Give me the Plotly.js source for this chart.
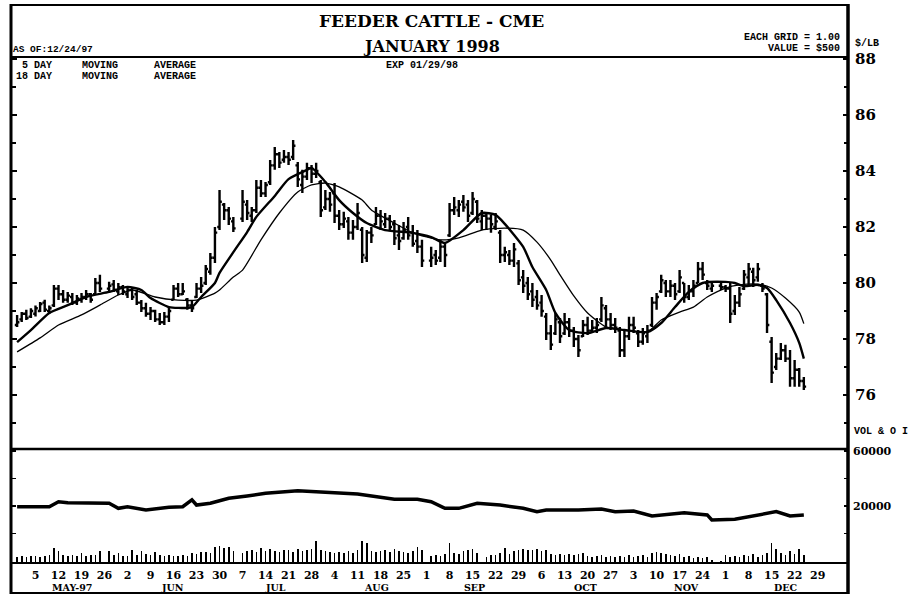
<!DOCTYPE html>
<html>
<head>
<meta charset="utf-8">
<script src="https://cdn.plot.ly/plotly-3.0.1.min.js"></script>
<style>html,body{margin:0;padding:0;background:#fff;}#chart{width:920px;height:597px;}</style>
</head>
<body>
<div id="chart"></div>
<script>
// ---------- DATA ----------
const holidays = ['1997-05-26','1997-07-04','1997-09-01','1997-11-27'];
const firstDay = '1997-04-29';
const lastDay = '1997-12-24';

const priceHigh = [
 78.86,78.96,79.04,79.10,79.20,79.32,79.40,79.20,79.93,79.93,79.75,79.68,79.64,79.57,79.64,79.75,79.64,80.18,80.29,
 80.04,80.11,80.00,79.93,79.82,79.82,79.75,79.39,79.29,79.14,79.04,78.93,78.96,79.14,79.93,80.00,80.00,79.46,79.39,80.00,80.21,80.64,81.07,82.00,83.32,82.86,82.71,82.36,
 83.32,82.96,82.71,83.68,83.68,83.61,84.39,84.86,84.68,84.75,84.68,85.11,84.32,84.04,84.29,84.21,84.29,83.68,83.32,83.25,83.57,82.61,82.54,82.36,82.25,82.86,82.00,81.89,82.00,82.71,82.61,82.50,82.43,82.25,82.07,82.18,82.36,82.07,81.89,81.54,
 81.29,81.18,81.54,81.43,82.86,83.07,82.96,83.14,82.96,83.25,82.96,82.61,82.50,82.43,82.50,81.89,81.29,81.18,81.43,80.82,80.46,80.21,80.00,79.75,79.57,78.93,78.50,78.93,78.75,78.93,78.75,78.43,78.14,78.68,78.79,78.68,78.75,79.50,79.21,78.93,78.75,78.43,78.32,78.79,78.79,78.32,78.39,78.50,79.50,79.64,80.29,80.11,80.11,80.00,80.46,80.00,79.93,80.11,80.75,80.75,80.11,80.04,
 80.00,79.93,80.00,79.57,79.86,80.46,80.71,80.54,80.71,80.00,79.64,78.07,77.50,77.86,77.79,77.61,77.25,76.96,76.64
];
const priceLow = [
 78.43,78.61,78.68,78.75,78.80,78.96,78.96,78.90,79.14,79.39,79.29,79.29,79.21,79.21,79.29,79.39,79.29,79.57,79.68,
 79.64,79.68,79.57,79.57,79.46,79.39,79.21,78.96,78.79,78.68,78.61,78.50,78.50,78.61,79.39,79.50,79.57,79.04,78.96,79.46,79.64,79.93,80.29,80.71,81.89,82.25,82.07,81.82,
 82.18,82.25,82.18,82.50,83.07,83.07,83.50,84.04,84.11,84.29,84.21,84.39,83.43,83.21,83.68,83.57,83.75,82.36,82.61,82.54,82.14,81.89,81.96,81.54,81.54,81.89,80.71,80.75,81.43,82.07,81.89,81.96,81.89,81.36,81.18,81.54,81.54,81.29,81.07,80.57,
 80.57,80.64,80.75,80.57,81.64,82.43,82.36,82.54,82.18,82.43,82.14,81.89,81.89,81.79,81.89,80.71,80.75,80.64,80.57,79.93,79.64,79.39,79.14,79.04,78.79,77.96,77.61,78.14,77.86,78.14,78.07,77.71,77.36,78.07,78.14,78.21,78.21,78.61,78.43,78.32,78.21,77.36,77.36,77.96,78.21,77.71,77.79,77.86,78.43,79.04,79.64,79.50,79.50,79.39,79.64,79.29,79.39,79.50,80.00,80.11,79.75,79.68,
 79.75,79.68,78.57,78.86,79.14,79.75,79.93,79.86,80.04,79.68,78.21,76.43,76.89,77.25,77.18,76.29,76.29,76.29,76.18
];
const priceOpen = [
 78.5,78.7,78.9,78.8,78.9,79.0,79.3,79.0,79.2,79.8,79.6,79.4,79.5,79.3,79.4,79.5,79.6,79.6,80.0,
 79.8,79.95,79.7,79.85,79.6,79.75,79.6,79.3,79.1,78.9,79.0,78.7,78.6,78.8,79.4,79.8,79.6,79.4,79.2,79.5,79.8,80.0,80.4,80.9,82.0,82.8,82.6,82.2,
 82.3,82.8,82.4,82.6,83.4,83.2,83.6,84.2,84.6,84.4,84.5,84.5,84.2,83.5,83.8,84.1,83.9,83.6,82.7,83.0,83.2,82.4,82.1,82.2,81.8,82.0,81.9,80.9,81.8,82.1,82.4,82.1,82.3,82.1,81.7,81.6,82.0,81.8,81.5,81.3,
 80.8,81.0,80.9,81.3,81.7,82.6,82.6,82.9,82.8,82.5,82.9,82.2,82.4,82.3,82.0,81.8,81.0,81.0,80.8,80.7,80.2,80.0,79.7,79.5,79.3,78.8,78.2,78.2,78.6,78.2,78.6,78.3,78.0,78.1,78.5,78.3,78.4,78.7,79.1,78.7,78.5,78.3,77.6,78.1,78.5,78.2,77.9,78.1,78.5,79.3,79.7,80.0,79.7,79.9,79.7,80.0,79.5,79.7,80.0,80.5,80.0,79.8,
 79.9,79.85,79.8,79.0,79.3,79.8,80.2,80.4,80.2,79.9,79.6,77.9,77.0,77.3,77.6,77.3,76.6,76.9,76.5
];
const priceClose = [
 78.6,78.9,78.75,79.0,79.1,79.25,79.05,79.1,79.8,79.6,79.4,79.55,79.3,79.45,79.5,79.6,79.4,80.0,79.8,
 79.9,79.75,79.85,79.7,79.75,79.5,79.3,79.1,78.9,79.0,78.7,78.6,78.8,79.0,79.8,79.6,79.7,79.2,79.1,79.8,79.9,80.5,80.9,81.8,82.9,82.6,82.3,81.95,
 82.9,82.5,82.6,83.4,83.2,83.5,84.2,84.6,84.3,84.5,84.4,84.9,83.7,83.8,84.1,83.9,84.0,82.6,83.0,82.8,82.4,82.1,82.3,81.8,82.0,82.5,81.0,81.8,81.7,82.4,82.2,82.3,82.0,81.6,81.5,81.9,81.7,81.4,81.3,80.8,
 80.9,80.8,81.3,81.0,82.6,82.7,82.8,82.7,82.4,83.0,82.3,82.4,82.3,82.1,82.2,81.0,81.1,80.8,81.2,80.1,79.9,79.6,79.4,79.2,79.0,78.2,77.8,78.7,78.1,78.6,78.3,78.0,77.6,78.5,78.3,78.4,78.5,79.2,78.7,78.5,78.4,77.6,78.1,78.5,78.4,77.9,78.2,78.3,79.3,79.5,80.1,79.7,79.9,79.6,80.2,79.5,79.7,79.9,80.5,80.3,79.9,79.9,
 79.85,79.8,78.9,79.3,79.6,80.3,80.5,80.1,80.5,79.8,78.5,76.8,77.3,77.6,77.3,76.6,76.9,76.5,76.3
];
const volume = [
 1500,1750,1500,1750,1750,1500,1750,2000,3750,3000,2000,1750,2000,1750,2500,1750,2000,2000,3000,
 3000,2000,2500,1750,1750,3250,2000,3000,2250,2000,2750,2000,1750,2000,1750,1750,2000,1750,2500,2250,2750,2750,2500,4000,4250,3750,4000,3000,
 2500,3000,3250,2750,3750,3000,3500,3000,2750,3250,3250,2750,3500,3000,3250,3500,5500,3250,3000,2750,2500,2750,2500,3000,2500,3250,5500,5000,3000,2750,3000,3250,2750,3500,3000,2750,2500,3000,4000,3250,
 1750,2000,1750,2250,5000,2500,2250,3000,3250,3500,2500,null,1500,2000,2000,2500,3750,2250,3000,3250,3500,3250,3250,3500,3000,3250,2250,2000,2250,2000,2250,2000,2250,2500,1750,1500,1750,2000,1500,1750,1500,1750,1500,2000,1500,1750,2000,1500,2500,2750,2500,2250,2000,1750,2250,1500,1750,1250,1500,1250,1500,750,
 500,2000,1500,1750,1500,2000,1750,2250,1500,2000,2500,5000,3500,2500,2000,3000,2250,3500,2000
];

const ma5Dates = ['1997-04-29','1997-05-02','1997-05-08','1997-05-14','1997-05-20','1997-05-27','1997-06-02','1997-06-05','1997-06-09','1997-06-13','1997-06-17','1997-06-20','1997-06-24','1997-06-27','1997-06-30','1997-07-03','1997-07-08','1997-07-10','1997-07-16','1997-07-21','1997-07-25','1997-07-28','1997-07-31','1997-08-05','1997-08-08','1997-08-13','1997-08-19','1997-08-27','1997-09-02','1997-09-05','1997-09-11','1997-09-17','1997-09-22','1997-09-24','1997-09-30','1997-10-02','1997-10-07','1997-10-09','1997-10-14','1997-10-20','1997-10-24','1997-10-30','1997-11-06','1997-11-11','1997-11-14','1997-11-19','1997-11-24','1997-12-01','1997-12-03','1997-12-05','1997-12-10','1997-12-12','1997-12-16','1997-12-19','1997-12-23','1997-12-24'];
const ma5 = [77.89,78.32,78.93,79.21,79.50,79.68,79.86,79.75,79.46,79.14,79.11,79.14,79.50,80.00,80.36,81.10,81.82,82.36,83.11,83.71,84.04,84.11,83.61,82.96,82.50,82.14,81.89,81.79,81.64,81.43,81.89,82.50,82.43,82.11,81.29,80.57,79.75,78.93,78.32,78.21,78.39,78.32,78.25,78.57,79.14,79.68,80.00,80.04,80.00,79.89,79.93,79.82,79.39,78.57,77.86,77.30];

const ma18Dates = ['1997-04-29','1997-05-06','1997-05-12','1997-05-19','1997-05-23','1997-05-29','1997-06-03','1997-06-10','1997-06-17','1997-06-23','1997-06-27','1997-06-30','1997-07-03','1997-07-07','1997-07-11','1997-07-17','1997-07-23','1997-07-28','1997-07-31','1997-08-05','1997-08-12','1997-08-14','1997-08-21','1997-08-27','1997-09-04','1997-09-10','1997-09-17','1997-09-24','1997-09-30','1997-10-03','1997-10-08','1997-10-10','1997-10-15','1997-10-20','1997-10-24','1997-10-30','1997-11-06','1997-11-11','1997-11-17','1997-11-20','1997-11-25','1997-12-01','1997-12-04','1997-12-10','1997-12-15','1997-12-18','1997-12-23','1997-12-24'];
const ma18 = [77.54,78.04,78.50,78.86,79.21,79.57,79.75,79.50,79.39,79.39,79.64,79.75,80.21,80.46,81.54,82.50,83.25,83.50,83.57,83.43,82.96,82.61,82.14,81.79,81.54,81.61,81.89,81.96,81.89,81.46,80.82,80.29,79.54,78.93,78.43,78.32,78.25,78.68,78.96,79.14,79.50,79.82,79.93,79.96,79.82,79.46,78.96,78.55];

const oiDates = ['1997-04-29','1997-05-08','1997-05-12','1997-05-14','1997-05-27','1997-05-29','1997-06-02','1997-06-06','1997-06-13','1997-06-18','1997-06-20','1997-06-23','1997-06-26','1997-07-02','1997-07-08','1997-07-14','1997-07-23','1997-07-30','1997-08-11','1997-08-21','1997-08-28','1997-09-02','1997-09-05','1997-09-10','1997-09-16','1997-09-23','1997-09-30','1997-10-03','1997-10-07','1997-10-16','1997-10-23','1997-10-28','1997-11-03','1997-11-07','1997-11-18','1997-11-25','1997-11-26','1997-12-03','1997-12-10','1997-12-16','1997-12-19','1997-12-24'];
const openInterest = [19500,19500,23100,22400,22000,18300,19500,17100,19000,19500,24400,20700,22000,25600,27300,29200,31100,30400,28700,24900,24900,23100,18300,18300,22000,20700,18300,15900,17100,17100,17800,15900,16400,12700,15100,13500,9800,10300,13500,15900,12700,13500];

const weekTicks = ['1997-05-05','1997-05-12','1997-05-19','1997-05-26','1997-06-02','1997-06-09','1997-06-16','1997-06-23','1997-06-30','1997-07-07','1997-07-14','1997-07-21','1997-07-28','1997-08-04','1997-08-11','1997-08-18','1997-08-25','1997-09-01','1997-09-08','1997-09-15','1997-09-22','1997-09-29','1997-10-06','1997-10-13','1997-10-20','1997-10-27','1997-11-03','1997-11-10','1997-11-17','1997-11-24','1997-12-01','1997-12-08','1997-12-15','1997-12-22','1997-12-29'];
const weekLabels = ['5','12','19','26','2','9','16','23','30','7','14','21','28','4','11','18','25','1','8','15','22','29','6','13','20','27','3','10','17','24','1','8','15','22','29'];
const monthLabels = ['MAY-97','JUN','JUL','AUG','SEP','OCT','NOV','DEC'];
const monthPos = ['1997-05-14 22:00','1997-06-13 17:00','1997-07-16 02:00','1997-08-15 05:00','1997-09-15 12:00','1997-10-17 12:00','1997-11-18 14:00','1997-12-17 22:00'];

const priceUnit = '$/LB';

// ---------- trading calendar ----------
function tradingDays(a, b) {
  const out = [];
  let t = Date.parse(a + 'T00:00:00Z');
  const end = Date.parse(b + 'T00:00:00Z');
  while (t <= end) {
    const d = new Date(t);
    const wd = d.getUTCDay();
    const s = d.toISOString().slice(0, 10);
    if (wd !== 0 && wd !== 6 && holidays.indexOf(s) < 0) out.push(s);
    t += 86400000;
  }
  return out;
}
const days = tradingDays(firstDay, lastDay);
if (days.length !== priceHigh.length) console.warn('length mismatch', days.length, priceHigh.length);

// ---------- layout helpers (pixel -> paper) ----------
const ML = 12, MR = 72, MT = 57, MB = 34, W = 920, H = 597;
const PW = W - ML - MR, PH = H - MT - MB;
const X = px => (px - ML) / PW;
const Y = py => (H - MB - py) / PH;
const volTop = 449;
const split = Y(volTop);

const mono = 'Liberation Mono, DejaVu Sans Mono, monospace';
const serif = 'DejaVu Serif, Liberation Serif, serif';
const blk = '#000';
const nb = s => s.replace(/ /g, '\u00a0');

const traces = [
  { type: 'bar', x: days, y: volume, xaxis: 'x', yaxis: 'y3', marker: { color: blk, line: { width: 0 } },
    width: 0.35 * 86400000, hoverinfo: 'skip' },
  { type: 'scatter', mode: 'lines', x: oiDates, y: openInterest, xaxis: 'x', yaxis: 'y2',
    line: { color: blk, width: 3.5 }, hoverinfo: 'skip' },
  { type: 'ohlc', x: days, open: priceOpen, high: priceHigh, low: priceLow, close: priceClose,
    xaxis: 'x', yaxis: 'y', tickwidth: 0.5,
    increasing: { line: { color: blk, width: 2.4 } }, decreasing: { line: { color: blk, width: 2.4 } },
    hoverinfo: 'skip' },
  { type: 'scatter', mode: 'lines', x: ma18Dates, y: ma18, xaxis: 'x', yaxis: 'y',
    line: { color: blk, width: 1.3, shape: 'spline', smoothing: 0.6 }, hoverinfo: 'skip' },
  { type: 'scatter', mode: 'lines', x: ma5Dates, y: ma5, xaxis: 'x', yaxis: 'y',
    line: { color: blk, width: 2.4, shape: 'spline', smoothing: 0.6 }, hoverinfo: 'skip' }
];

function hline(py, w, x0, x1) {
  return { type: 'line', xref: 'paper', yref: 'paper', x0: X(x0 || 10), x1: X(x1 || 849), y0: Y(py), y1: Y(py),
           line: { color: blk, width: w } };
}
function vline(px, w, y0, y1) {
  return { type: 'line', xref: 'paper', yref: 'paper', x0: X(px), x1: X(px), y0: Y(y0), y1: Y(y1),
           line: { color: blk, width: w } };
}
const shapes = [
  vline(11, 3, 4, 594), vline(848, 3.5, 4, 594),
  hline(5, 2), hline(57, 2), hline(449, 2.5), hline(563, 2), hline(593, 2)
];

function txt(text, px, py, size, opts) {
  opts = opts || {};
  return Object.assign({ text: text, xref: 'paper', yref: 'paper', x: X(px), y: Y(py),
    xanchor: 'left', yanchor: 'middle', showarrow: false,
    font: { family: mono, size: size, color: blk, weight: 'bold' } }, opts);
}
const annotations = [
  txt('FEEDER CATTLE - CME', 432, 21, 17, { xanchor: 'center', font: { family: serif, size: 17, color: blk, weight: 'bold' } }),
  txt('JANUARY 1998', 432, 47, 16, { xanchor: 'center', font: { family: serif, size: 16, color: blk, weight: 'bold' } }),
  txt('AS OF:12/24/97', 11, 49, 9.5),
  txt('EACH GRID = 1.00', 842, 37, 10, { xanchor: 'right' }),
  txt('VALUE = $500', 842, 48, 10, { xanchor: 'right' }),
  txt(priceUnit, 853, 44, 10),
  txt(nb(' 5 DAY     MOVING      AVERAGE'), 14, 65, 10),
  txt(nb('18 DAY     MOVING      AVERAGE'), 14, 76, 10),
  txt('EXP 01/29/98', 384, 65, 10),
  txt(nb('VOL & O I'), 852, 432, 10)
];
monthLabels.forEach((m, i) => {
  annotations.push({ text: m, xref: 'x', yref: 'paper', x: monthPos[i], y: Y(587), xanchor: 'center', yanchor: 'middle',
    showarrow: false, font: { family: serif, size: 9.5, color: blk, weight: 'bold' } });
});

const layout = {
  width: W, height: H, margin: { l: ML, r: MR, t: MT, b: MB, pad: 0 },
  paper_bgcolor: '#fff', plot_bgcolor: '#fff', showlegend: false, bargap: 0,
  xaxis: {
    type: 'date', range: ['1997-04-25 21:22', '1998-01-06 14:24'],
    rangebreaks: [{ bounds: ['sat', 'mon'] }], rangeslider: { visible: false },
    anchor: 'y2', tickmode: 'array', tickvals: weekTicks, ticktext: weekLabels, tickangle: 0,
    ticks: '', showgrid: false, zeroline: false, showline: false, ticklabelstandoff: 4,
    tickfont: { family: serif, size: 11, color: blk, weight: 'bold' }
  },
  yaxis: {
    domain: [split, 1], range: [74.071, 88.071], side: 'right', anchor: 'x',
    tickmode: 'linear', tick0: 0, dtick: 2, ticks: 'inside', ticklen: 5, tickwidth: 1.5, tickcolor: blk,
    mirror: 'ticks', minor: { dtick: 1, ticks: 'inside', ticklen: 4, tickcolor: blk, tickwidth: 1.2 },
    showgrid: false, zeroline: false, showline: false, ticklabelstandoff: 6,
    tickfont: { family: serif, size: 15, color: blk, weight: 'bold' }
  },
  yaxis2: {
    domain: [0, split], range: [-21455, 61455], side: 'right', anchor: 'x',
    tickmode: 'array', tickvals: [0, 20000, 40000, 60000], ticktext: ['', '20000', '', '60000'],
    ticks: 'inside', ticklen: 4, tickwidth: 1.2, tickcolor: blk, mirror: 'ticks',
    showgrid: false, zeroline: false, showline: false, ticklabelstandoff: 4,
    tickfont: { family: serif, size: 11, color: blk, weight: 'bold' }
  },
  yaxis3: { overlaying: 'y2', anchor: 'x', range: [0, 28500], visible: false, showgrid: false, zeroline: false },
  shapes: shapes, annotations: annotations
};

Plotly.newPlot('chart', traces, layout, { staticPlot: true, displayModeBar: false });
</script>
</body>
</html>
